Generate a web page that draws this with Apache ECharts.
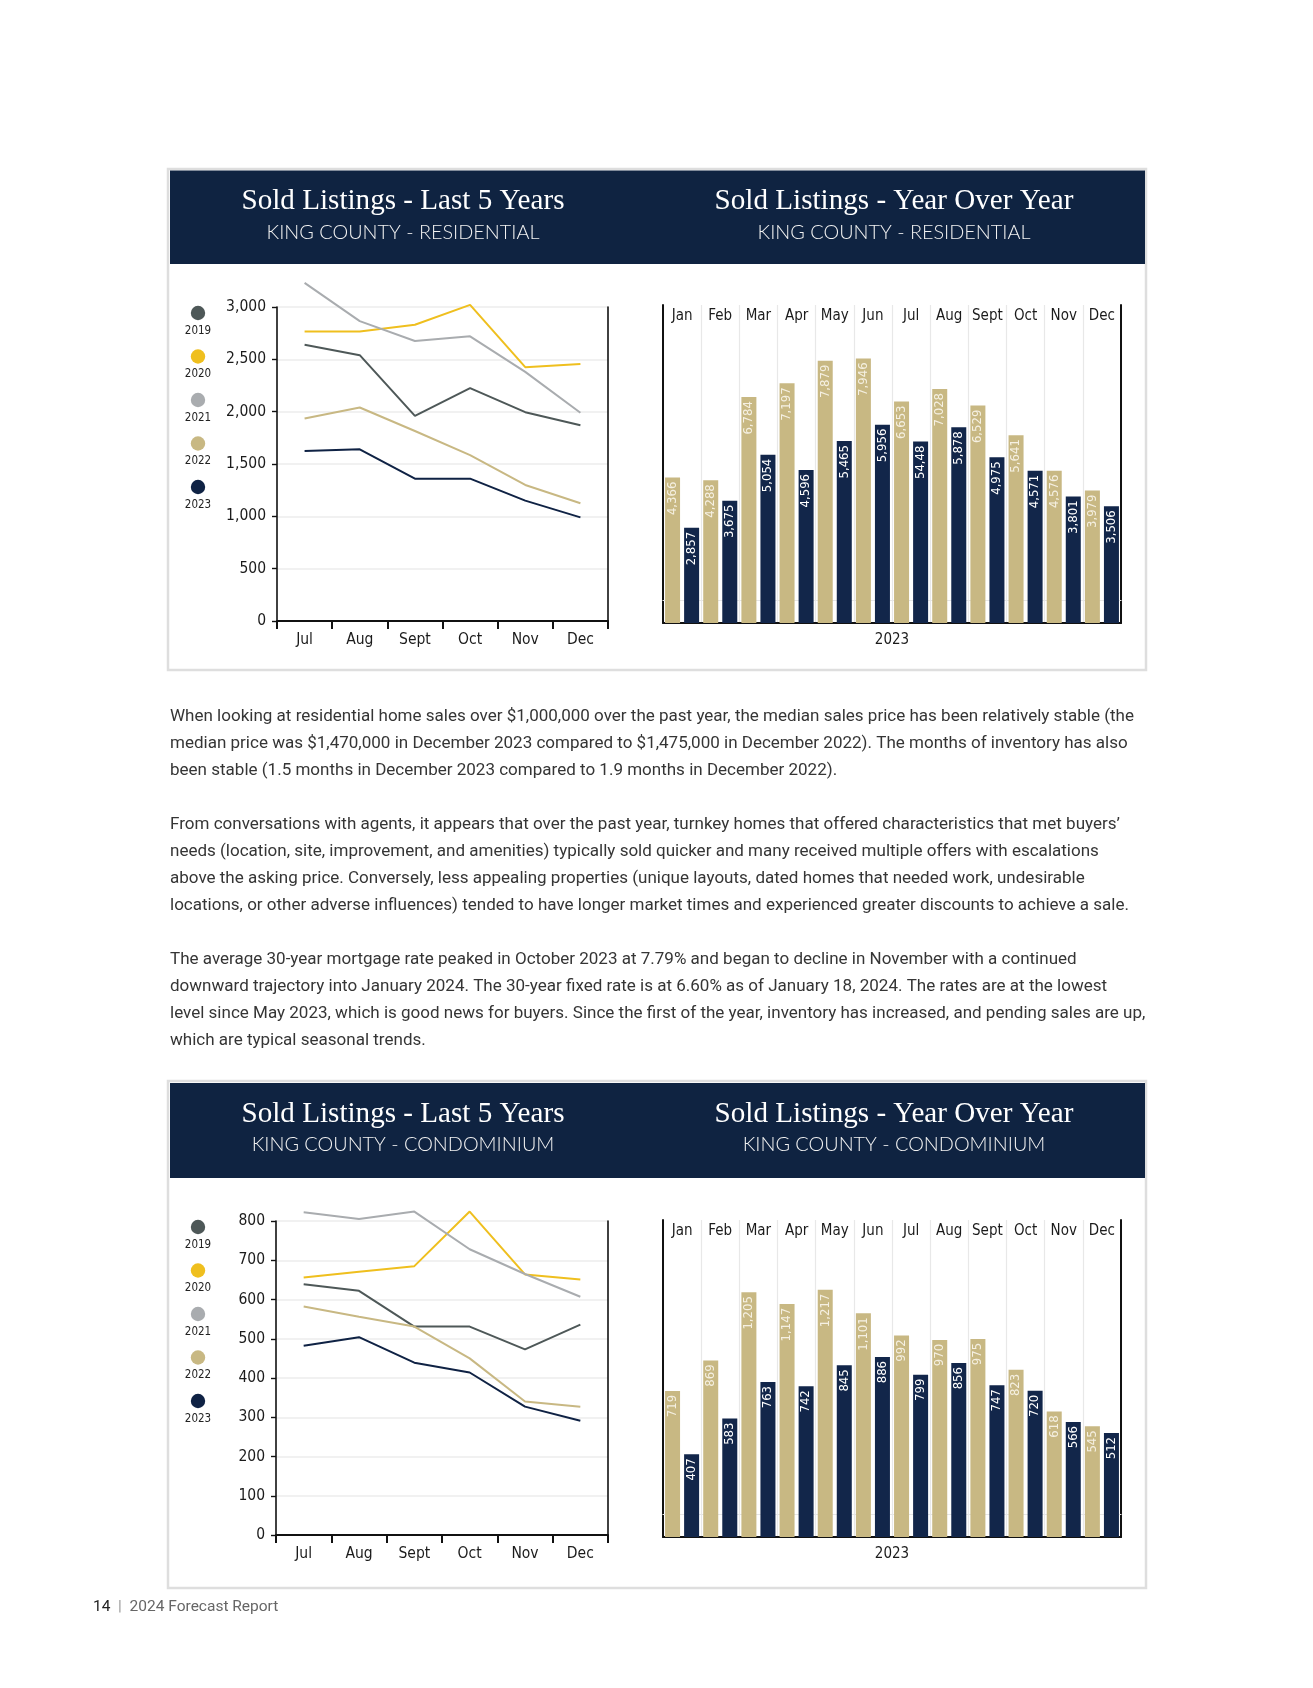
<!DOCTYPE html>
<html><head><meta charset="utf-8">
<script src="https://cdn.jsdelivr.net/npm/echarts@6/dist/echarts.min.js"></script>
<style>html,body{margin:0;padding:0;background:#fff}#c{width:1313px;height:1688px}</style>
</head><body><div id="c"></div>
<script>
// ---------------- DATA ----------------
const lineMonths = ['Jul', 'Aug', 'Sept', 'Oct', 'Nov', 'Dec'];
const barMonths = ['Jan', 'Feb', 'Mar', 'Apr', 'May', 'Jun', 'Jul', 'Aug', 'Sept', 'Oct', 'Nov', 'Dec'];
const years = ['2019', '2020', '2021', '2022', '2023'];
const barYearLabel = '2023';

const res2019 = [2640, 2540, 1960, 2225, 1995, 1870];
const res2020 = [2765, 2765, 2830, 3020, 2425, 2455];
const res2021 = [3230, 2865, 2675, 2720, 2380, 1990];
const res2022 = [1935, 2040, 1815, 1585, 1300, 1125];
const res2023 = [1625, 1640, 1360, 1360, 1150, 990];

const condo2019 = [639, 622, 531, 531, 473, 536];
const condo2020 = [656, 671, 685, 824, 664, 651];
const condo2021 = [822, 805, 824, 728, 665, 607];
const condo2022 = [582, 556, 531, 450, 340, 327];
const condo2023 = [482, 504, 439, 414, 327, 291];

const resBar2022 = [4366, 4288, 6784, 7197, 7879, 7946, 6653, 7028, 6529, 5641, 4576, 3979];
const resBar2023 = [2857, 3675, 5054, 4596, 5465, 5956, 5448, 5878, 4975, 4571, 3801, 3506];
const resBar2023Text = {6: '54,48'}; // label as printed in the source
const condoBar2022 = [719, 869, 1205, 1147, 1217, 1101, 992, 970, 975, 823, 618, 545];
const condoBar2023 = [407, 583, 763, 742, 845, 886, 799, 856, 747, 720, 566, 512];

const titleLeft = 'Sold Listings - Last 5 Years';
const titleRight = 'Sold Listings - Year Over Year';
const subRes = 'KING COUNTY - RESIDENTIAL';
const subCondo = 'KING COUNTY - CONDOMINIUM';
const bodyLines = [
 'When looking at residential home sales over $1,000,000 over the past year, the median sales price has been relatively stable (the',
 'median price was $1,470,000 in December 2023 compared to $1,475,000 in December 2022). The months of inventory has also',
 'been stable (1.5 months in December 2023 compared to 1.9 months in December 2022).',
 '',
 'From conversations with agents, it appears that over the past year, turnkey homes that offered characteristics that met buyers\u2019',
 'needs (location, site, improvement, and amenities) typically sold quicker and many received multiple offers with escalations',
 'above the asking price. Conversely, less appealing properties (unique layouts, dated homes that needed work, undesirable',
 'locations, or other adverse influences) tended to have longer market times and experienced greater discounts to achieve a sale.',
 '',
 'The average 30-year mortgage rate peaked in October 2023 at 7.79% and began to decline in November with a continued',
 'downward trajectory into January 2024. The 30-year fixed rate is at 6.60% as of January 18, 2024. The rates are at the lowest',
 'level since May 2023, which is good news for buyers. Since the first of the year, inventory has increased, and pending sales are up,',
 'which are typical seasonal trends.'
];

// ---------------- STYLE ----------------
const yearColors = ['#4e5858', '#efbf1e', '#a9acaf', '#c8b883', '#0f2244'];
const tan = '#c8b883', navy = '#12264a', headerNavy = '#0f2341';

const ctx = document.createElement('canvas').getContext('2d');
function has(name) {
  const t = 'mmmmmmmmmmlliiWW0123456789';
  for (const g of ['monospace', 'serif']) {
    ctx.font = '40px ' + g; const a = ctx.measureText(t).width;
    ctx.font = '40px "' + name + '", ' + g; const b = ctx.measureText(t).width;
    if (a !== b) return true;
  }
  return false;
}
function pick(list) { for (const n of list) if (has(n)) return n; return list[list.length - 1]; }
function fit(fam, weight, text, w) { ctx.font = weight + ' 100px "' + fam + '"'; return 100 * w / ctx.measureText(text).width; }

const COND = pick(['Liberation Sans Narrow', 'DejaVu Sans Condensed', 'Roboto']);
const SERIF = pick(['Liberation Serif', 'DejaVu Serif']);
const BODY = pick(['Roboto', 'Lato', 'Liberation Sans']);
const SUB = pick(['Lato', 'Roboto', 'Liberation Sans']);

const yLabSize = 15.5;
const xLabSize = 15.5;
const monSize = 15;
const valSize = 13;
const legSize = 11.5;
const nameSize = 15;
const titleSize = fit(SERIF, 'normal', titleLeft, 323);
const subSize = fit(SUB, '300', subRes, 273);
const bodySize = Math.min(...bodyLines.filter(s => s).map(s => fit(BODY, 'normal', s, 976)));

const fmt = v => Number(v).toLocaleString('en-US');
const ink = '#1b1b1b';

// ---------------- LAYOUT ----------------
const panels = [
  {top: 169, bottom: 670, headTop: 170.5, headH: 93.5, sub: subRes,
   line: {left: 277, right: 608, top: 307, bottom: 621, max: 3000, interval: 500,
          data: [res2019, res2020, res2021, res2022, res2023]},
   bar: {left: 663, right: 1121, top: 305, bottom: 623, max: 9550,
         a: resBar2022, b: resBar2023, bText: resBar2023Text}},
  {top: 1081, bottom: 1588, headTop: 1083, headH: 95, sub: subCondo,
   line: {left: 276, right: 608, top: 1221, bottom: 1535, max: 800, interval: 100,
          data: [condo2019, condo2020, condo2021, condo2022, condo2023]},
   bar: {left: 663, right: 1121, top: 1220, bottom: 1537, max: 1560,
         a: condoBar2022, b: condoBar2023, bText: {}}}
];

const W = 1313, H = 1688;
const grid = [], xAxis = [], yAxis = [], series = [], graphic = [];

panels.forEach((p, pi) => {
  const L = p.line, B = p.bar;
  const gL = grid.length;
  grid.push({left: L.left, width: L.right - L.left, top: L.top, height: L.bottom - L.top, outerBoundsMode: 'none'});
  const gB = grid.length;
  grid.push({left: B.left, width: B.right - B.left, top: B.top, height: B.bottom - B.top, outerBoundsMode: 'none'});

  // line chart axes
  const xL = xAxis.length;
  xAxis.push({gridIndex: gL, type: 'category', data: lineMonths, boundaryGap: true,
    axisLine: {show: true, lineStyle: {color: '#111', width: 2}},
    axisTick: {show: true, length: 8, interval: 0, lineStyle: {color: '#111', width: 2}},
    axisLabel: {interval: 0, margin: 11, color: ink, fontFamily: COND, fontSize: xLabSize},
    splitLine: {show: false}});
  const yL = yAxis.length;
  yAxis.push({gridIndex: gL, type: 'value', min: 0, max: L.max, interval: L.interval,
    axisLine: {show: true, lineStyle: {color: '#111', width: 1.6}},
    axisTick: {show: true, length: 5, lineStyle: {color: '#111', width: 1.4}},
    axisLabel: {margin: 11, color: ink, fontFamily: COND, fontSize: yLabSize, formatter: fmt},
    splitLine: {show: true, lineStyle: {color: '#ededed', width: 1.5}}});
  yAxis.push({gridIndex: gL, type: 'value', position: 'right', min: 0, max: L.max, interval: L.interval,
    axisLine: {show: true, lineStyle: {color: '#111', width: 1.6}},
    axisTick: {show: false}, axisLabel: {show: false}, splitLine: {show: false}});
  L.data.forEach((d, i) => series.push({
    type: 'line', name: years[i], xAxisIndex: xL, yAxisIndex: yL, data: d,
    symbol: 'none', clip: false, smooth: false,
    lineStyle: {color: yearColors[i], width: 2}, itemStyle: {color: yearColors[i]},
    z: 3 + i, silent: true}));

  // bar chart axes
  const xB = xAxis.length;
  xAxis.push({gridIndex: gB, type: 'category', data: barMonths, boundaryGap: true,
    axisLine: {show: true, lineStyle: {color: '#111', width: 2}},
    axisTick: {show: false}, axisLabel: {show: false},
    splitLine: {show: true, interval: 0, lineStyle: {color: '#e8e8e8', width: 1.2}},
    name: barYearLabel, nameLocation: 'middle', nameGap: 10,
    nameTextStyle: {color: ink, fontFamily: COND, fontSize: nameSize, verticalAlign: 'top'}});
  xAxis.push({gridIndex: gB, type: 'category', data: barMonths, boundaryGap: true, position: 'top', offset: -23,
    axisLine: {show: true, lineStyle: {color: '#e6e6e6', width: 1.2}},
    axisTick: {show: false},
    axisLabel: {interval: 0, margin: 4, color: ink, fontFamily: COND, fontSize: monSize},
    splitLine: {show: false}});
  const yB = yAxis.length;
  yAxis.push({gridIndex: gB, type: 'value', min: 0, max: B.max,
    axisLine: {show: true, lineStyle: {color: '#111', width: 2}},
    axisTick: {show: false}, axisLabel: {show: false}, splitLine: {show: false}});
  yAxis.push({gridIndex: gB, type: 'value', position: 'right', min: 0, max: B.max,
    axisLine: {show: true, lineStyle: {color: '#111', width: 2}},
    axisTick: {show: false}, axisLabel: {show: false}, splitLine: {show: false}});
  const barLabel = (color, texts) => ({show: true, position: 'insideTop', rotate: 90, align: 'right',
    verticalAlign: 'middle', distance: 4, color: color, fontFamily: COND, fontSize: valSize,
    formatter: q => (texts && texts[q.dataIndex]) || fmt(q.value)});
  series.push({type: 'bar', name: '2022', xAxisIndex: xB, yAxisIndex: yB, data: B.a,
    barWidth: 15, barGap: '27%', itemStyle: {color: tan}, label: barLabel('#f5f0e2', null), silent: true});
  series.push({type: 'bar', name: '2023', xAxisIndex: xB, yAxisIndex: yB, data: B.b,
    barWidth: 15, barGap: '27%', itemStyle: {color: navy}, label: barLabel('#ffffff', B.bText), silent: true});

  // panel frame + header
  graphic.push({type: 'rect', z: -10, shape: {x: 168, y: p.top, width: 978, height: p.bottom - p.top},
    style: {fill: '#fff', stroke: '#dedede', lineWidth: 2.5}});
  graphic.push({type: 'rect', z: -9, shape: {x: 170, y: p.headTop, width: 975, height: p.headH},
    style: {fill: headerNavy}});
  const ty = p.headTop + 31, sy = p.headTop + 62;
  [[403, titleLeft], [894, titleRight]].forEach(([cx, t]) => {
    graphic.push({type: 'text', x: cx, y: ty, style: {text: t, fill: '#ffffff', fontFamily: SERIF,
      fontSize: titleSize, align: 'center', verticalAlign: 'middle'}});
    graphic.push({type: 'text', x: cx, y: sy, style: {text: p.sub, fill: '#f2f2f2', fontFamily: SUB,
      fontWeight: 300, fontSize: subSize, align: 'center', verticalAlign: 'middle'}});
  });
  // legend
  years.forEach((yr, i) => {
    const cy = L.top + 6 + 43.5 * i;
    graphic.push({type: 'circle', shape: {cx: 198, cy: cy, r: 7.2}, style: {fill: yearColors[i]}});
    graphic.push({type: 'text', x: 198, y: cy + 18, style: {text: yr, fill: '#222', fontFamily: COND,
      fontSize: legSize, align: 'center', verticalAlign: 'middle'}});
  });
});

// body text
graphic.push({type: 'text', x: 170, y: 703.5, style: {text: bodyLines.join('\n'), fill: '#353535',
  fontFamily: BODY, fontSize: bodySize, lineHeight: 27, align: 'left', verticalAlign: 'top'}});
// footer
graphic.push({type: 'text', x: 93, y: 1607, style: {
  text: '{a|14}{b|  |  }{c|2024 Forecast Report}', align: 'left', verticalAlign: 'middle',
  rich: {a: {fontFamily: BODY, fontSize: 15.5, fill: '#222', color: '#222'},
         b: {fontFamily: BODY, fontSize: 15.5, fill: '#999', color: '#999'},
         c: {fontFamily: BODY, fontSize: 15.5, fill: '#666', color: '#666'}}}});

const chart = echarts.init(document.getElementById('c'), null, {renderer: 'canvas', width: W, height: H});
chart.setOption({animation: false, backgroundColor: '#ffffff', grid, xAxis, yAxis, series, graphic});
</script></body></html>
